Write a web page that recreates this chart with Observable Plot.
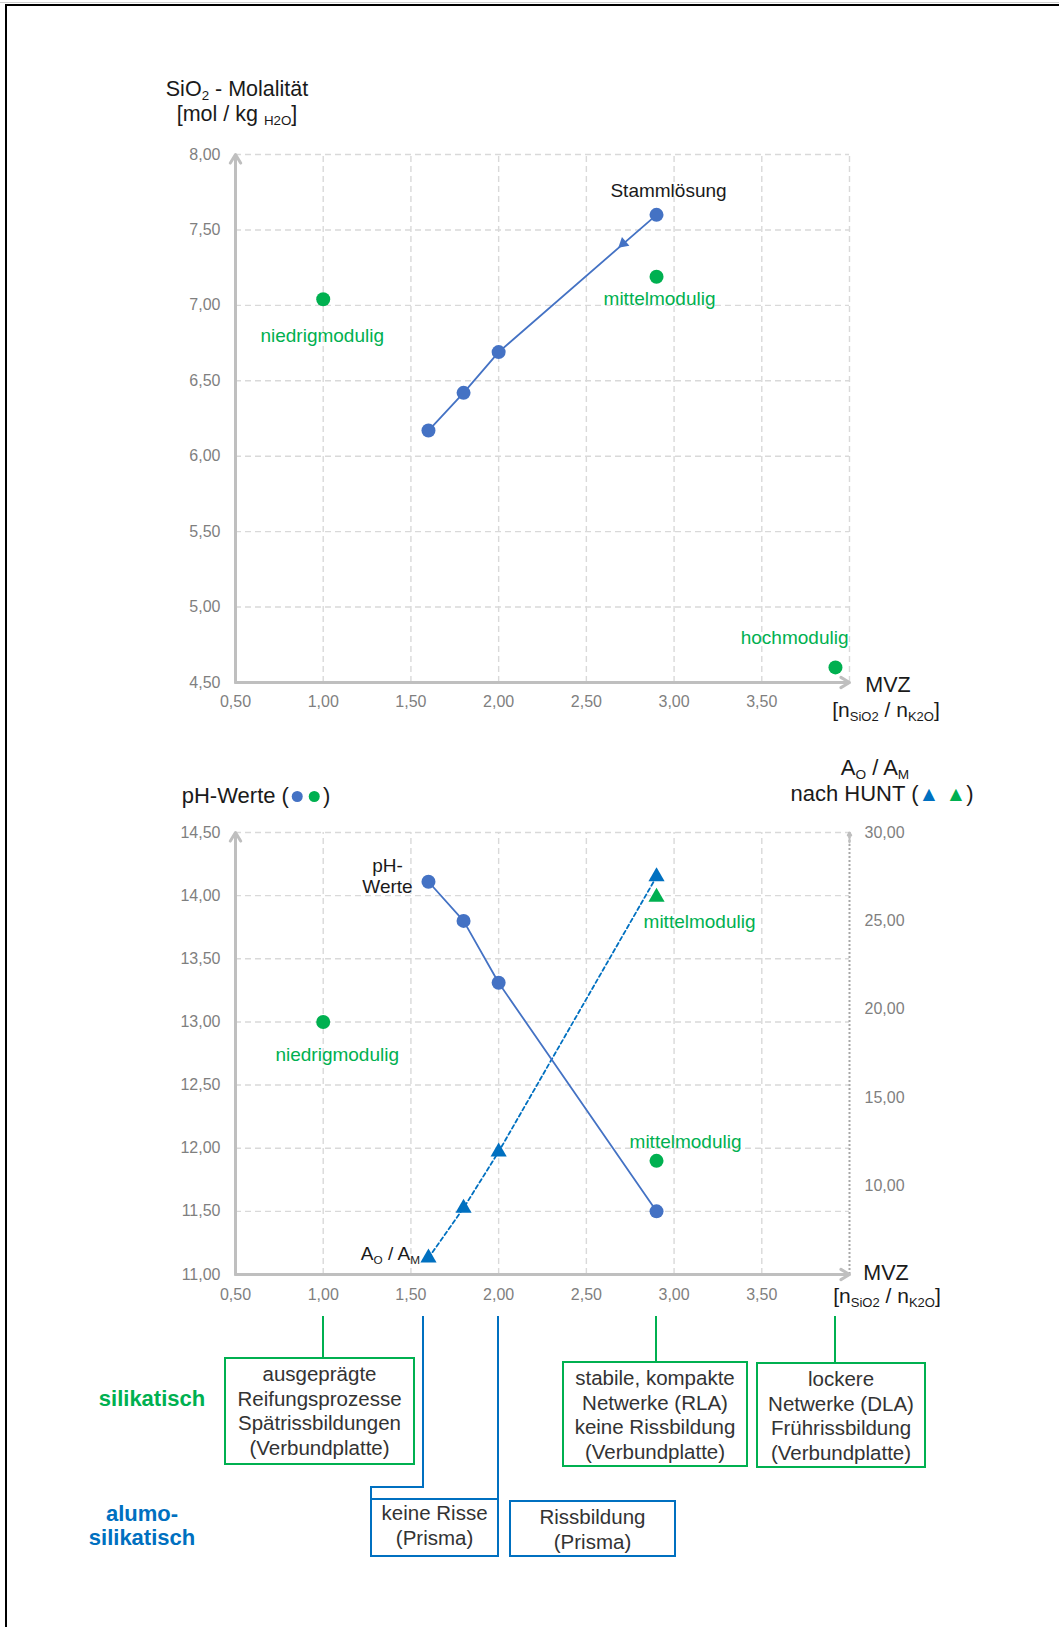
<!DOCTYPE html>
<html><head><meta charset="utf-8">
<script src="https://cdn.jsdelivr.net/npm/d3@7"></script>
<script src="https://cdn.jsdelivr.net/npm/@observablehq/plot@0.6"></script>
<style>
body{margin:0;background:#fff;}
#page{position:relative;width:1059px;height:1627px;overflow:hidden;font-family:"Liberation Sans",Arial,sans-serif;color:#222;}
.abs{position:absolute;white-space:nowrap;line-height:24px;}
sub{font-size:0.62em;vertical-align:baseline;position:relative;top:0.32em;}
.box{position:absolute;box-sizing:border-box;border:2px solid;text-align:center;font-size:20.5px;line-height:24.5px;color:#333;white-space:nowrap;}
.vl{position:absolute;width:2px;}
.hl{position:absolute;height:2px;}
.dotk{display:inline-block;width:11px;height:11px;border-radius:50%;vertical-align:middle;position:relative;top:-1px;margin:0 3px;}
</style></head><body><div id="page"></div><script>
// ---------- data ----------
const mvzDomain = [0.5, 4.0];
const mvzTicks = [0.5, 1.0, 1.5, 2.0, 2.5, 3.0, 3.5];
const mvzGrid = [1.0, 1.5, 2.0, 2.5, 3.0, 3.5, 4.0];

const sio2Domain = [4.5, 8.0];
const sio2Ticks = [4.5, 5.0, 5.5, 6.0, 6.5, 7.0, 7.5, 8.0];
const seriesMvz = [1.6, 1.8, 2.0, 2.9];
const seriesSio2 = [6.17, 6.42, 6.69, 7.60];
const moduleMvz = [1.0, 2.9, 3.92];
const moduleSio2 = [7.04, 7.19, 4.60];
const moduleNames = ["niedrigmodulig", "mittelmodulig", "hochmodulig"];
const arrowMvz = [2.71];
const arrowSio2 = [7.41];

const phDomain = [11.0, 14.5];
const phTicks = [11.0, 11.5, 12.0, 12.5, 13.0, 13.5, 14.0, 14.5];
const seriesPH = [14.11, 13.80, 13.31, 11.50];
const modulePHMvz = [1.0, 2.9];
const modulePH = [13.00, 11.90];
const aoamDomain = [5, 30];
const aoamTicks = [10, 15, 20, 25, 30];
const seriesAoAm = [5.94, 8.76, 11.94, 27.5];
const moduleAoAmMvz = [2.9];
const moduleAoAm = [26.35];

const boxMvzGreen = [1.0, 2.9, 3.92];
const boxMvzBlue = [1.57, 2.0];
const boxTextsGreen = [
  ["ausgeprägte", "Reifungsprozesse", "Spätrissbildungen", "(Verbundplatte)"],
  ["stabile, kompakte", "Netwerke (RLA)", "keine Rissbildung", "(Verbundplatte)"],
  ["lockere", "Netwerke (DLA)", "Frührissbildung", "(Verbundplatte)"]
];
const boxTextsBlue = [["keine Risse", "(Prisma)"], ["Rissbildung", "(Prisma)"]];

// ---------- styles ----------
const BLUE = "#4472C4", TBLUE = "#0070C0", GREEN = "#00B050";
const GRID = "#d9d9d9", AXIS = "#bfbfbf", TICK = "#7f7f7f";
const FONT = "'Liberation Sans', Arial, sans-serif";
const fmt = d => d.toFixed(2).replace(".", ",");
const W = 1059, ML = 235, MR = 210;
const page = document.getElementById("page");

function addDiv(cls, style, html) {
  const d = document.createElement("div");
  d.className = cls;
  Object.assign(d.style, style);
  if (html != null) d.innerHTML = html;
  page.appendChild(d);
  return d;
}

// frame
addDiv("hl", {left: "0px", top: "2px", width: W + "px", height: "1px", background: "#cfcfcf"});
addDiv("hl", {left: "5px", top: "4px", width: (W - 5) + "px", height: "2px", background: "#000"});
addDiv("vl", {left: "5px", top: "4px", height: "1623px", background: "#000"});

const zip = (xs, ys, extra) => xs.map((x, i) => ({x, y: ys[i], ...(extra ? {name: extra[i]} : {})}));

// ---------- top chart ----------
const TOP1 = 130, H1 = 600, MT1 = 24, MB1 = 48;
const topSeries = zip(seriesMvz, seriesSio2);
const topModules = zip(moduleMvz, moduleSio2, moduleNames);
const kx = (W - ML - MR) / (mvzDomain[1] - mvzDomain[0]);
const ky1 = (H1 - MT1 - MB1) / (sio2Domain[1] - sio2Domain[0]);
const ax = (seriesMvz[3] - seriesMvz[2]) * kx, ay = (seriesSio2[3] - seriesSio2[2]) * ky1;
const arrowAngle = Math.atan2(-ax, -ay) * 180 / Math.PI;

const axesTop = [
  {x1: mvzDomain[0], y1: sio2Domain[0], x2: mvzDomain[1], y2: sio2Domain[0]},
  {x1: mvzDomain[0], y1: sio2Domain[0], x2: mvzDomain[0], y2: sio2Domain[1]}
];
const gridOpts = {stroke: GRID, strokeWidth: 1.4, strokeDasharray: "6,4"};
const axisOpts = {x1: "x1", y1: "y1", x2: "x2", y2: "y2", stroke: AXIS, strokeWidth: 3, headLength: 5, headAngle: 62};
const plotStyle = {fontFamily: FONT, fontSize: "16px", color: TICK, background: "transparent", overflow: "visible"};

const topPlot = Plot.plot({
  width: W, height: H1, marginLeft: ML, marginRight: MR, marginTop: MT1, marginBottom: MB1,
  style: plotStyle,
  x: {domain: mvzDomain, ticks: mvzTicks, tickFormat: fmt, tickSize: 0, tickPadding: 13, label: null},
  y: {domain: sio2Domain, ticks: sio2Ticks, tickFormat: fmt, tickSize: 0, tickPadding: 15, label: null},
  marks: [
    Plot.ruleX(mvzGrid, {x: d => d, y1: () => sio2Domain[0], y2: () => sio2Domain[1], ...gridOpts}),
    Plot.ruleY(sio2Ticks.slice(1), {y: d => d, x1: () => mvzDomain[0], x2: () => mvzDomain[1], ...gridOpts}),
    Plot.arrow(axesTop, axisOpts),
    Plot.line(topSeries, {x: "x", y: "y", stroke: BLUE, strokeWidth: 1.8}),
    Plot.dot(zip(arrowMvz, arrowSio2), {x: "x", y: "y", symbol: "triangle", r: 4.2, fill: BLUE, rotate: arrowAngle}),
    Plot.dot(topSeries, {x: "x", y: "y", r: 7, fill: BLUE}),
    Plot.dot(topModules, {x: "x", y: "y", r: 7, fill: GREEN}),
    Plot.text(topSeries.slice(-1), {x: "x", y: "y", text: () => "Stammlösung", fill: "#1a1a1a", fontSize: 19, dx: 12, dy: -24}),
    Plot.text(topModules.filter(d => d.name === "niedrigmodulig"), {x: "x", y: "y", text: "name", fill: GREEN, fontSize: 19, dx: -1, dy: 37}),
    Plot.text(topModules.filter(d => d.name === "mittelmodulig"), {x: "x", y: "y", text: "name", fill: GREEN, fontSize: 19, dx: 3, dy: 22}),
    Plot.text(topModules.filter(d => d.name === "hochmodulig"), {x: "x", y: "y", text: "name", fill: GREEN, fontSize: 19, dx: 13, dy: -30, textAnchor: "end"})
  ]
});
const topWrap = addDiv("abs", {left: "0px", top: TOP1 + "px", lineHeight: "normal"});
topWrap.appendChild(topPlot);

// ---------- bottom chart ----------
const TOP2 = 790, H2 = 530, MT2 = 42, MB2 = 46;
const toPH = v => phDomain[0] + (v - aoamDomain[0]) * (phDomain[1] - phDomain[0]) / (aoamDomain[1] - aoamDomain[0]);
const phSeries = zip(seriesMvz, seriesPH);
const phModules = zip(modulePHMvz, modulePH, ["niedrigmodulig", "mittelmodulig"]);
const aoSeries = zip(seriesMvz, seriesAoAm.map(toPH));
const aoModules = zip(moduleAoAmMvz, moduleAoAm.map(toPH));
const axesBottom = [
  {x1: mvzDomain[0], y1: phDomain[0], x2: mvzDomain[1], y2: phDomain[0]},
  {x1: mvzDomain[0], y1: phDomain[0], x2: mvzDomain[0], y2: phDomain[1]}
];
const rightHead = [{x1: mvzDomain[1], y1: phDomain[1] - 0.08, x2: mvzDomain[1], y2: phDomain[1]}];

const botPlot = Plot.plot({
  width: W, height: H2, marginLeft: ML, marginRight: MR, marginTop: MT2, marginBottom: MB2,
  style: plotStyle,
  x: {domain: mvzDomain, ticks: mvzTicks, tickFormat: fmt, tickSize: 0, tickPadding: 14, label: null},
  y: {domain: phDomain, ticks: phTicks, tickFormat: fmt, tickSize: 0, tickPadding: 15, label: null},
  marks: [
    Plot.ruleX(mvzGrid.slice(0, -1), {x: d => d, y1: () => phDomain[0], y2: () => phDomain[1], ...gridOpts}),
    Plot.ruleY(phTicks.slice(1), {y: d => d, x1: () => mvzDomain[0], x2: () => mvzDomain[1], ...gridOpts}),
    Plot.ruleX([mvzDomain[1]], {x: d => d, y1: () => phDomain[0], y2: () => phDomain[1], stroke: "#a8a8a8", strokeWidth: 2, strokeDasharray: "2,2"}),
    Plot.arrow(rightHead, {...axisOpts, strokeWidth: 2, headLength: 7}),
    Plot.text(aoamTicks, {x: () => mvzDomain[1], y: d => toPH(d), text: fmt, textAnchor: "start", dx: 15, fill: TICK, fontSize: 16}),
    Plot.arrow(axesBottom, axisOpts),
    Plot.line(aoSeries, {x: "x", y: "y", stroke: TBLUE, strokeWidth: 1.8, strokeDasharray: "4,3"}),
    Plot.line(phSeries, {x: "x", y: "y", stroke: BLUE, strokeWidth: 1.8}),
    Plot.dot(phSeries, {x: "x", y: "y", r: 7, fill: BLUE}),
    Plot.dot(phModules, {x: "x", y: "y", r: 7, fill: GREEN}),
    Plot.dot(aoSeries, {x: "x", y: "y", symbol: "triangle", r: 6, fill: TBLUE}),
    Plot.dot(aoModules, {x: "x", y: "y", symbol: "triangle", r: 6, fill: GREEN}),
    Plot.text(phSeries.slice(0, 1), {x: "x", y: "y", text: () => "pH-\nWerte", fill: "#1a1a1a", fontSize: 19, lineHeight: 1.1, textAnchor: "middle", lineAnchor: "bottom", dx: -41, dy: 11}),
    Plot.text(aoModules, {x: "x", y: "y", text: () => "mittelmodulig", fill: GREEN, fontSize: 19, dx: 43, dy: 25}),
    Plot.text(phModules.filter(d => d.name === "niedrigmodulig"), {x: "x", y: "y", text: "name", fill: GREEN, fontSize: 19, dx: 14, dy: 33}),
    Plot.text(phModules.filter(d => d.name === "mittelmodulig"), {x: "x", y: "y", text: "name", fill: GREEN, fontSize: 19, dx: 29, dy: -19})
  ]
});
const botWrap = addDiv("abs", {left: "0px", top: TOP2 + "px", lineHeight: "normal"});
botWrap.appendChild(botPlot);

const xs = v => botPlot.scale("x").apply(v);
const ysB = v => TOP2 + botPlot.scale("y").apply(v);

// ---------- titles / overlays ----------
function label(html, cx, cy, style) {
  return addDiv("abs", Object.assign({left: cx + "px", top: cy + "px", transform: "translate(-50%,-50%)", fontSize: "21px", color: "#1a1a1a"}, style || {}), html);
}
label("SiO<sub>2</sub> - Molalität", 237, 90, {fontSize: "21.5px"});
label("[mol / kg <sub>H2O</sub>]", 237, 115, {fontSize: "21.5px"});
label("MVZ", 888, 685, {fontSize: "21.5px"});
label("[n<sub>SiO2</sub> / n<sub>K2O</sub>]", 886, 711, {fontSize: "21px"});

label(`pH-Werte (<span class="dotk" style="background:${BLUE}"></span><span class="dotk" style="background:${GREEN}"></span>)`, 256, 796, {fontSize: "22px"});
label("A<sub>O</sub> / A<sub>M</sub>", 875, 769, {fontSize: "22px"});
label(`nach HUNT (<span style="color:${TBLUE};font-size:21px">▲</span> <span style="color:${GREEN};font-size:21px">▲</span>)`, 882, 794, {fontSize: "22px"});
label("MVZ", 886, 1273, {fontSize: "21.5px"});
label("[n<sub>SiO2</sub> / n<sub>K2O</sub>]", 887, 1297, {fontSize: "21px"});
// A_O / A_M label at first triangle
addDiv("abs", {left: (xs(seriesMvz[0]) - 8) + "px", top: (ysB(toPH(seriesAoAm[0])) - 2) + "px", transform: "translate(-100%,-50%)", fontSize: "19px", color: "#1a1a1a"}, "A<sub>O</sub> / A<sub>M</sub>");

label("silikatisch", 152, 1399, {fontSize: "22px", fontWeight: "bold", color: GREEN});
label("alumo-<br>silikatisch", 142, 1526, {fontSize: "22px", fontWeight: "bold", color: TBLUE, textAlign: "center", lineHeight: "24px"});

// ---------- connectors & boxes ----------
const CONN_TOP = 1316;
const greenBoxes = [
  {left: 224, top: 1357, w: 191, h: 108},
  {left: 562, top: 1361, w: 186, h: 106},
  {left: 756, top: 1362, w: 170, h: 106}
];
boxMvzGreen.forEach((v, i) => {
  const b = greenBoxes[i];
  addDiv("vl", {left: (xs(v) - 1) + "px", top: CONN_TOP + "px", height: (b.top - CONN_TOP) + "px", background: GREEN});
  addDiv("box", {left: b.left + "px", top: b.top + "px", width: b.w + "px", height: b.h + "px", borderColor: GREEN, paddingTop: "3px"},
    boxTextsGreen[i].join("<br>"));
});
// blue connectors
const b1x = xs(boxMvzBlue[0]), b2x = xs(boxMvzBlue[1]);
const B1 = {left: 370, top: 1498, right: b2x + 1, bottom: 1557};
const HY = 1486;
addDiv("vl", {left: (b1x - 1) + "px", top: CONN_TOP + "px", height: (HY + 2 - CONN_TOP) + "px", background: TBLUE});
addDiv("hl", {left: B1.left + "px", top: HY + "px", width: (b1x + 1 - B1.left) + "px", background: TBLUE});
addDiv("vl", {left: B1.left + "px", top: HY + "px", height: (B1.top - HY) + "px", background: TBLUE});
addDiv("vl", {left: (b2x - 1) + "px", top: CONN_TOP + "px", height: (B1.top - CONN_TOP) + "px", background: TBLUE});
addDiv("box", {left: B1.left + "px", top: B1.top + "px", width: (B1.right - B1.left) + "px", height: (B1.bottom - B1.top) + "px", borderColor: TBLUE, paddingTop: "1px"},
  boxTextsBlue[0].join("<br>"));
addDiv("box", {left: "509px", top: "1500px", width: "167px", height: "57px", borderColor: TBLUE, paddingTop: "3px"},
  boxTextsBlue[1].join("<br>"));
</script></body></html>
